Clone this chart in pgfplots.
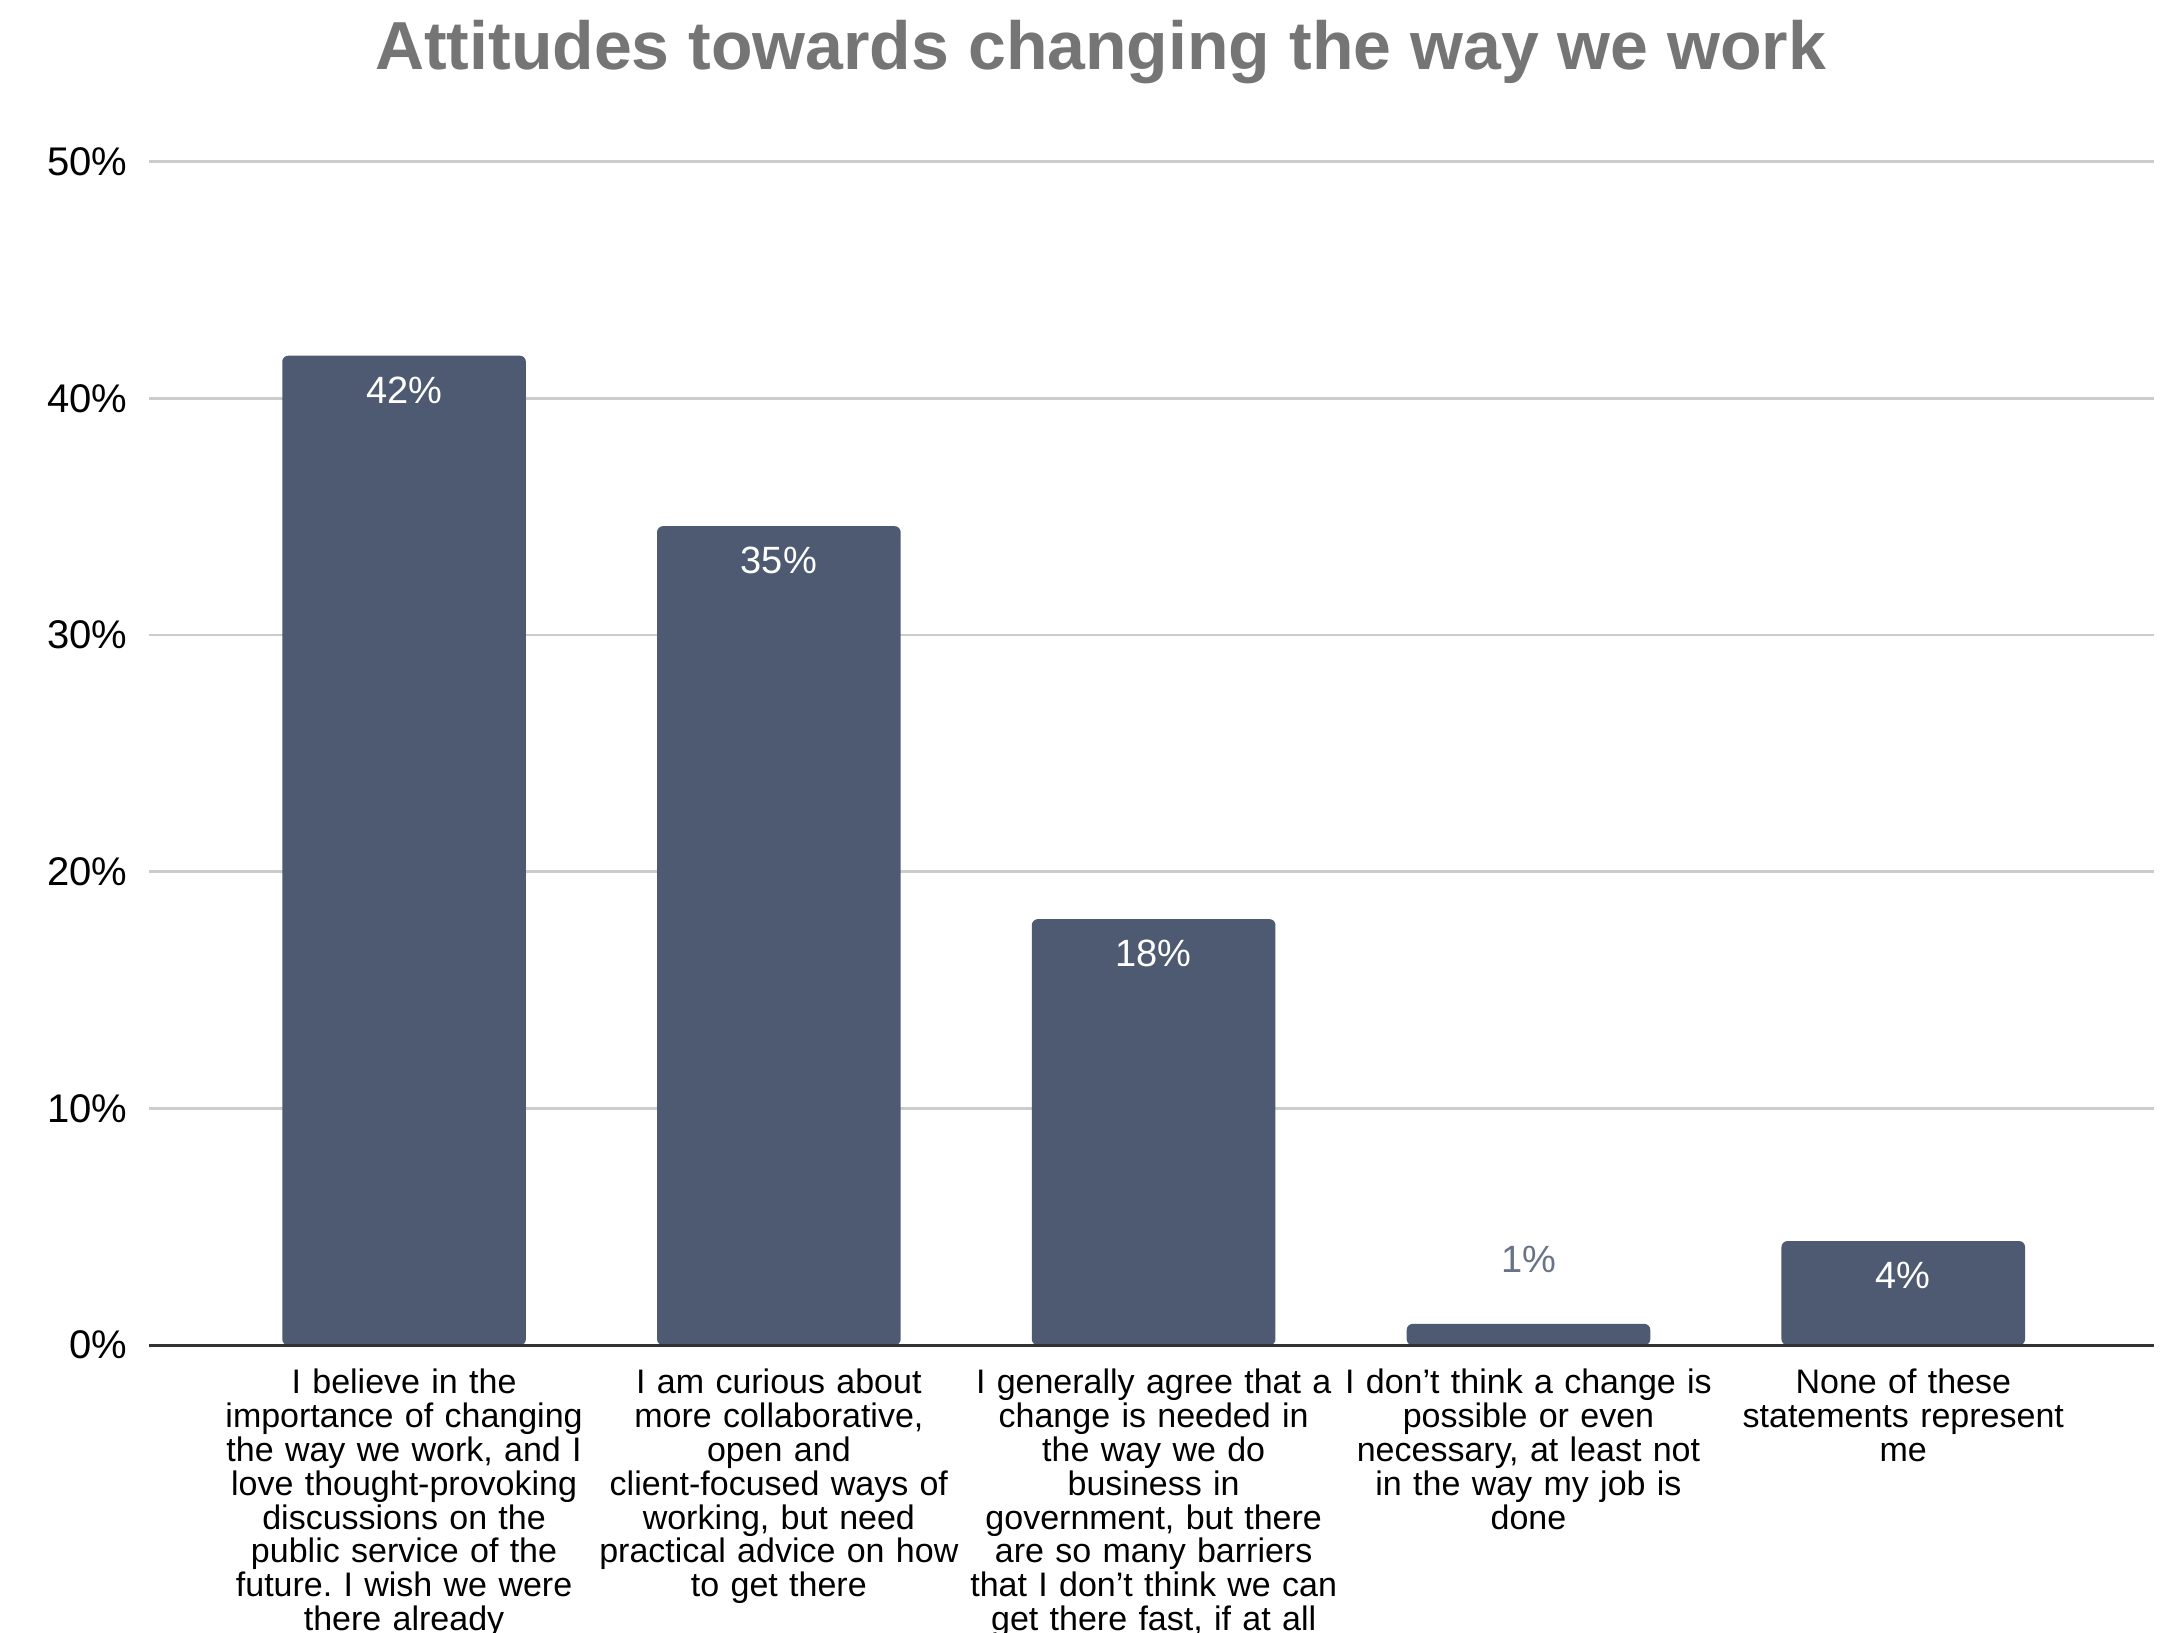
\documentclass[border=0pt]{standalone}
\usepackage{pgfplots}
\pgfplotsset{compat=1.18}
\usepackage{fontspec}
\setmainfont{Liberation Sans}
\frenchspacing
\definecolor{barcol}{HTML}{4E5A72}
\definecolor{titlecol}{HTML}{757575}
\definecolor{gridcol}{HTML}{CCCCCC}
\definecolor{basecol}{HTML}{333333}
\begin{document}
\begin{tikzpicture}
\useasboundingbox (-37.3pt,-71.7pt) rectangle (504.7pt,336.3pt);
\begin{axis}[
  scale only axis,
  width=501.3pt, height=295.9pt,
  at={(0,0)}, anchor=south west,
  xmin=-0.68, xmax=4.67,
  ymin=0, ymax=50,
  ytick={0,10,20,30,40,50},
  yticklabel={\pgfmathprintnumber[assume math mode=true]{\tick}\%},
  yticklabel style={font=\fontsize{10}{12}\selectfont, xshift=-2pt},
  xtick={0,1,2,3,4},
  xticklabels={
    {I believe in the\\importance of changing\\the way we work, and I\\love thought-provoking\\discussions on the\\public service of the\\future. I wish we were\\there already},
    {I am curious about\\more collaborative,\\open and\\client-focused ways of\\working, but need\\practical advice on how\\to get there},
    {I generally agree that a\\change is needed in\\the way we do\\business in\\government, but there\\are so many barriers\\that I don’t think we can\\get there fast, if at all},
    {I don’t think a change is\\possible or even\\necessary, at least not\\in the way my job is\\done},
    {None of these\\statements represent\\me}
  },
  xticklabel style={font=\fontsize{8.5}{8.44}\selectfont, text width=110pt, align=center, anchor=north, yshift=-2.5pt},
  major tick length=0pt,
  axis x line*=bottom, axis y line*=left,
  x axis line style={draw=none},
  y axis line style={draw=none},
  ymajorgrids,
  grid style={gridcol, line width=0.7pt},
  ybar, bar width=0.65, bar shift=0pt,
  title={Attitudes towards changing the way we work},
  title style={font=\bfseries\fontsize{17}{20}\selectfont, color=titlecol, at={(0.5,1)}, anchor=center, yshift=21.3pt, xshift=-12.8pt},
  clip=false,
]
\addplot[fill=barcol, draw=none, rounded corners=1.5pt, bar shift=0pt,
  point meta=explicit symbolic,
  nodes near coords,
  every node near coord/.append style={font=\fontsize{9.5}{11}\selectfont, color=white, anchor=center, yshift=-8.6pt}]
  coordinates {(0,41.8) [42\%] (1,34.6) [35\%] (2,18.0) [18\%] (4,4.4) [4\%]};
\addplot[fill=barcol, draw=none, rounded corners=1.5pt, bar shift=0pt,
  point meta=explicit symbolic,
  nodes near coords,
  every node near coord/.append style={font=\fontsize{9.5}{11}\selectfont, color=barcol!85, anchor=center, yshift=16.2pt}]
  coordinates {(3,0.9) [1\%]};
\draw[basecol, line width=0.7pt] (rel axis cs:0,0) -- (rel axis cs:1,0);
\end{axis}
\end{tikzpicture}
\end{document}
